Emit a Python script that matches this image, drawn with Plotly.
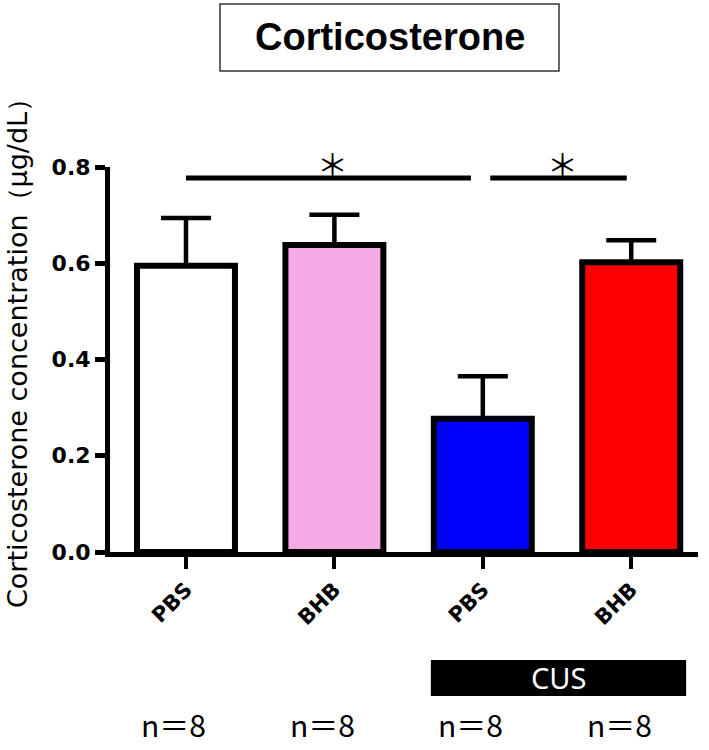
import plotly.graph_objects as go

# ---- data ----
groups = ["PBS", "BHB", "PBS", "BHB"]
means = [0.595, 0.638, 0.277, 0.602]
sem = [0.099, 0.063, 0.088, 0.046]
colors = ["#FFFFFF", "#F5AAE5", "#0000FF", "#FF0000"]
n_labels = ["n＝8", "n＝8", "n＝8", "n＝8"]
sig_pairs = [(0, 2), (2, 3)]
sig_marks = ["＊", "＊"]
cus_groups = [2, 3]
y_ticks = [0.0, 0.2, 0.4, 0.6, 0.8]

W, H = 709, 750
L, R, T, B = 110, 11, 167, 198
plot_w = W - L - R
plot_h = H - T - B
Y_MAX = 0.8

def px_x(px):
    return (px - L) / plot_w

def px_y(py):
    return (H - B - py) / plot_h

xs = list(range(len(groups)))

fig = go.Figure()
fig.add_trace(go.Bar(
    x=xs, y=means, width=0.66,
    marker=dict(color=colors, line=dict(color="black", width=6)),
    error_y=dict(type="data", symmetric=False, array=sem,
                 arrayminus=[0] * len(sem), color="black",
                 thickness=4.5, width=25),
    showlegend=False,
))

# significance bars
sig_y = 0.777
for (a, b), mark in zip(sig_pairs, sig_marks):
    x0 = a + (0.05 if a == 2 else 0.0)
    x1 = b - (0.08 if b == 2 else 0.03)
    fig.add_shape(type="line", x0=x0, x1=x1, y0=sig_y, y1=sig_y,
                  xref="x", yref="y", line=dict(color="black", width=5))
    fig.add_annotation(x=(x0 + x1) / 2 + 0.03, y=px_y(162), xref="x", yref="paper",
                       text=mark, showarrow=False, yanchor="middle",
                       font=dict(family="Noto Sans CJK JP", size=31, color="black"))

# CUS box
fig.add_shape(type="rect", x0=min(cus_groups) - 0.35, x1=max(cus_groups) + 0.37,
              y0=px_y(696), y1=px_y(660), xref="x", yref="paper",
              fillcolor="black", line=dict(width=0))
fig.add_annotation(x=sum(cus_groups) / len(cus_groups) + 0.01, y=px_y(677),
                   xref="x", yref="paper", text="CUS", showarrow=False,
                   yanchor="middle",
                   font=dict(family="Noto Sans", size=29, color="white"))

# n labels
for x, t in zip(xs, n_labels):
    fig.add_annotation(x=x, y=px_y(748), xref="x", yref="paper", xshift=-12,
                       text=t, showarrow=False, yanchor="bottom",
                       font=dict(family="Noto Sans CJK JP", size=30, color="black"))

# title box
fig.add_shape(type="rect", x0=px_x(220), x1=px_x(559), y0=px_y(71), y1=px_y(4),
              xref="paper", yref="paper", line=dict(color="#333333", width=1.5),
              fillcolor="white")
fig.add_annotation(x=px_x(389.5), y=px_y(37.5), xref="paper", yref="paper",
                   text="Corticosterone", showarrow=False, yanchor="middle",
                   font=dict(family="Liberation Sans", size=38, color="black",
                             weight="bold"))

# y title
fig.add_annotation(x=px_x(17), y=px_y(347), xref="paper", yref="paper",
                   text="Corticosterone concentration（μg/dL）", textangle=-90,
                   showarrow=False, xanchor="center", yanchor="middle",
                   font=dict(family="DejaVu Sans", size=27, color="black"))

fig.update_layout(
    width=W, height=H,
    margin=dict(l=L, r=R, t=T, b=B, pad=0),
    plot_bgcolor="white", paper_bgcolor="white",
    xaxis=dict(range=[-0.512, 3.45], tickvals=xs, ticktext=groups,
               tickangle=-45, ticks="outside", ticklen=12, tickwidth=4,
               tickcolor="black", showline=True, linewidth=5, linecolor="black",
               showgrid=False, zeroline=False,
               tickfont=dict(family="DejaVu Sans", size=21, color="black",
                             weight="bold")),
    yaxis=dict(range=[0, Y_MAX], tickvals=y_ticks,
               ticktext=[f"{v:.1f}" for v in y_ticks],
               ticks="outside", ticklen=10, tickwidth=5, tickcolor="black",
               showline=True, linewidth=5, linecolor="black",
               showgrid=False, zeroline=False,
               tickfont=dict(family="DejaVu Sans", size=22, color="black",
                             weight="bold")),
)

fig.write_html("out.html", config={"displayModeBar": False},
               post_script="document.body.style.margin='0';document.body.style.overflow='hidden';")
